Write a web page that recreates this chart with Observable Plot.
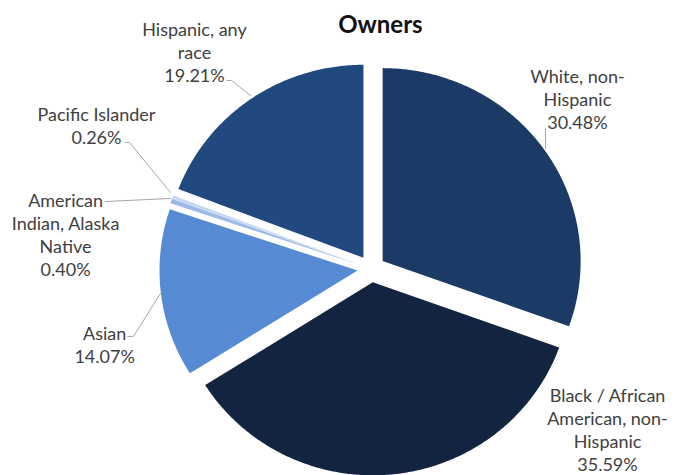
<!DOCTYPE html>
<html>
<head>
<meta charset="utf-8">
<script src="https://cdn.jsdelivr.net/npm/d3@7"></script>
<script src="https://cdn.jsdelivr.net/npm/@observablehq/plot@0.6"></script>
<style>
  html, body { margin: 0; padding: 0; background: #ffffff; }
  #chart svg { display: block; }
</style>
</head>
<body>
<div id="chart"></div>
<script>
// ---- data ----
const title = "Owners";
const categories = [
  "White, non-Hispanic",
  "Black / African American, non-Hispanic",
  "Asian",
  "American Indian, Alaska Native",
  "Pacific Islander",
  "Hispanic, any race"
];
const shares = [30.48, 35.59, 14.07, 0.40, 0.26, 19.21];
const labelTexts = [
  "White, non-\nHispanic\n30.48%",
  "Black / African\nAmerican, non-\nHispanic\n35.59%",
  "Asian\n14.07%",
  "American\nIndian, Alaska\nNative\n0.40%",
  "Pacific Islander\n0.26%",
  "Hispanic, any\nrace\n19.21%"
];

// ---- styles / layout (unit-radius coordinates) ----
const colors = ["#1b3a66", "#12243f", "#568bd4", "#9dbbe6", "#c6d7ef", "#22497f"];
const explode = 0.07;
const labelPos = [
  [1.041, -0.880],
  [1.193, 0.830],
  [-1.347, 0.389],
  [-1.544, -0.178],
  [-1.388, -0.743],
  [-0.893, -1.124]
];
const titlePos = [0.046, -1.261];
const leaders = [
  {name: categories[0], pts: [[0.880, -0.725], [0.880, -0.623]]},
  {name: categories[2], pts: [[-1.231, 0.350], [-1.201, 0.350], [-1.065, 0.127]]},
  {name: categories[3], pts: [[-1.342, -0.349], [-1.014, -0.365]]},
  {name: categories[4], pts: [[-1.241, -0.655], [-1.221, -0.655], [-1.014, -0.396]]},
  {name: categories[5], pts: [[-0.731, -0.976], [-0.706, -0.976], [-0.610, -0.898]]}
];

// ---- build slice polygons from the values ----
const arcs = d3.pie().sort(null).value(d => d)(shares);
const slicePts = [];
arcs.forEach((a, i) => {
  const mid = (a.startAngle + a.endAngle) / 2;
  const ox = explode * Math.sin(mid), oy = -explode * Math.cos(mid);
  const name = categories[i];
  slicePts.push({name, x: ox, y: oy});
  const n = Math.max(2, Math.ceil((a.endAngle - a.startAngle) / (Math.PI / 360)));
  for (let k = 0; k <= n; k++) {
    const t = a.startAngle + (a.endAngle - a.startAngle) * k / n;
    slicePts.push({name, x: ox + Math.sin(t), y: oy - Math.cos(t)});
  }
});
const leaderPts = leaders.flatMap(l => l.pts.map(([x, y]) => ({name: l.name, x, y})));
const labels = categories.map((c, i) => ({name: c, text: labelTexts[i], x: labelPos[i][0], y: labelPos[i][1]}));

const font = "Lato, 'Open Sans', sans-serif";
const chart = Plot.plot({
  width: 675,
  height: 475,
  margin: 0,
  style: {background: "#ffffff", fontFamily: font},
  x: {domain: [-370.8 / 198, (675 - 370.8) / 198], range: [0, 675], axis: null},
  y: {domain: [-268.4 / 193, (475 - 268.4) / 193], range: [0, 475], axis: null},
  color: {domain: categories, range: colors},
  marks: [
    Plot.line(slicePts, {x: "x", y: "y", z: "name", fill: "name", stroke: "none", curve: "linear-closed"}),
    Plot.line(leaderPts, {x: "x", y: "y", z: "name", stroke: "#a6a6a6", strokeWidth: 1}),
    Plot.text(labels, {x: "x", y: "y", text: "text", fontSize: 18, lineHeight: 1.28, fill: "#404040", textAnchor: "middle", fontFamily: font}),
    Plot.text([title], {x: () => titlePos[0], y: () => titlePos[1], text: d => d, fontSize: 24, fontWeight: "bold", fill: "#111111", textAnchor: "middle", fontFamily: font})
  ]
});
document.getElementById("chart").appendChild(chart);
</script>
</body>
</html>
